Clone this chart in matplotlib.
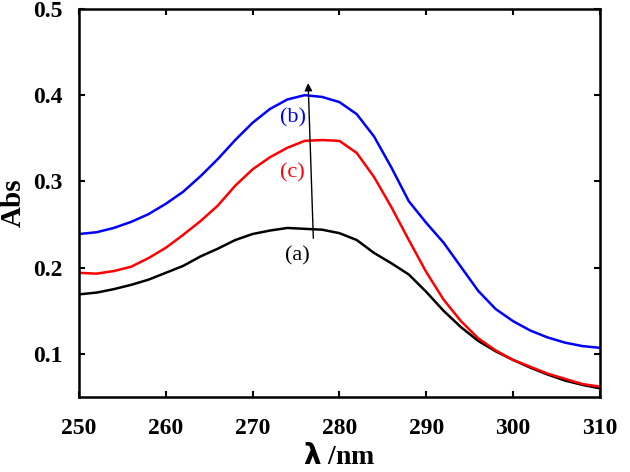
import matplotlib
matplotlib.use("Agg")
import matplotlib.pyplot as plt

# wavelength grid (nm) and absorbance
wavelength = [250, 252, 254, 256, 258, 260, 262, 264, 266, 268, 270, 272, 274, 276, 278,
              280, 282, 284, 286, 288, 290, 292, 294, 296, 298, 300, 302, 304, 306, 308, 310]

abs_a = [0.169, 0.171, 0.175, 0.180, 0.186, 0.194, 0.202, 0.213, 0.222, 0.232, 0.239, 0.243,
         0.246, 0.245, 0.244, 0.240, 0.232, 0.217, 0.205, 0.192, 0.172, 0.150, 0.131, 0.115,
         0.103, 0.093, 0.084, 0.076, 0.069, 0.064, 0.060]
abs_b = [0.239, 0.241, 0.246, 0.253, 0.262, 0.274, 0.288, 0.306, 0.326, 0.348, 0.368, 0.384,
         0.395, 0.400, 0.398, 0.392, 0.378, 0.352, 0.316, 0.277, 0.252, 0.229, 0.201, 0.173,
         0.152, 0.138, 0.127, 0.119, 0.113, 0.109, 0.107]
abs_c = [0.194, 0.193, 0.196, 0.201, 0.211, 0.223, 0.238, 0.254, 0.272, 0.295, 0.314, 0.328,
         0.339, 0.347, 0.348, 0.347, 0.333, 0.305, 0.270, 0.232, 0.195, 0.163, 0.138, 0.118,
         0.104, 0.093, 0.085, 0.077, 0.071, 0.065, 0.062]

x_ticks = [250, 260, 270, 280, 290, 300, 310]
y_ticks = [0.1, 0.2, 0.3, 0.4, 0.5]

plt.rcParams['font.family'] = ['Liberation Serif', 'DejaVu Serif']

fig = plt.figure(figsize=(6.3, 4.72), dpi=100)
ax = fig.add_axes([0.1254, 0.159, 0.8266, 0.822])

ax.plot(wavelength, abs_a, color='black', lw=1.8)
ax.plot(wavelength, abs_c, color='red', lw=1.8)
ax.plot(wavelength, abs_b, color='blue', lw=1.8)

# arrow showing the change from (a) to (b)
ax.annotate('', xy=(276.4, 0.414), xytext=(277.0, 0.234),
            arrowprops=dict(arrowstyle='-|>', color='black', lw=1.0,
                            mutation_scale=11, shrinkA=0, shrinkB=0))

ax.text(274.6, 0.374, '(b)', color='blue', fontsize=16, ha='center', va='center')
ax.text(274.6, 0.310, '(c)', color='red', fontsize=16, ha='center', va='center')
ax.text(275.2, 0.214, '(a)', color='black', fontsize=16, ha='center', va='center')

ax.set_xlim(250, 310)
ax.set_ylim(0.05, 0.5)
ax.set_xticks(x_ticks)
ax.set_yticks(y_ticks)
ax.set_xticklabels([str(t) for t in x_ticks])
ax.set_yticklabels([f"{t:.1f}" for t in y_ticks])

ax.tick_params(direction='in', top=True, right=True, length=4, width=1.5,
               labelsize=17, pad=12)
ax.tick_params(axis='x', pad=15)
for lab in ax.get_xticklabels() + ax.get_yticklabels():
    lab.set_fontweight('bold')
for sp in ax.spines.values():
    sp.set_linewidth(1.8)

ax.set_xlabel(r'$\boldsymbol{\lambda}$ /nm', fontsize=20, fontweight='bold', labelpad=4)
ax.set_ylabel('Abs', fontsize=21, fontweight='bold')
ax.yaxis.set_label_coords(-0.10, 0.5)

fig.savefig('out.png', dpi=100)
